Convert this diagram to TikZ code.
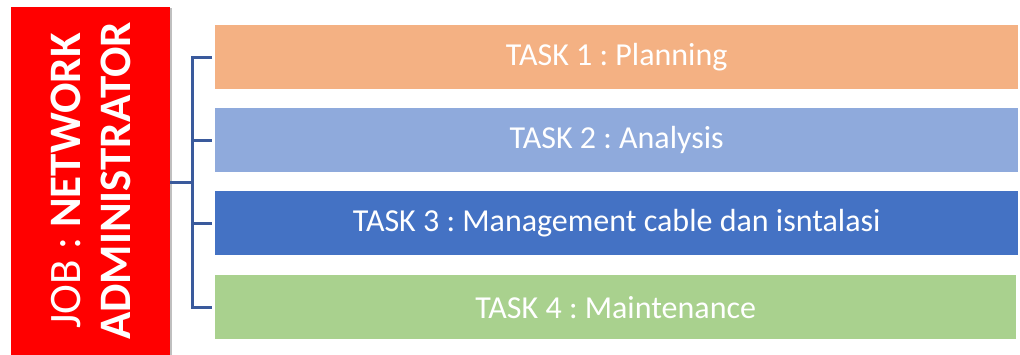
\documentclass[tikz,border=0pt]{standalone}
\usepackage{fontspec}
\setmainfont{Carlito}
\usetikzlibrary{shadows}
\definecolor{torange}{HTML}{F4B183}
\definecolor{tlblue}{HTML}{8FAADC}
\definecolor{tdblue}{HTML}{4472C4}
\definecolor{tgreen}{HTML}{A9D18E}
\definecolor{conncol}{HTML}{3A5A9C}
\frenchspacing
\tikzset{
  taskbox/.style={rectangle, anchor=north west, minimum width=803pt, minimum height=64pt, inner sep=0pt, text=white, font=\fontsize{32}{37}\selectfont},
  jobbox/.style={rectangle, anchor=north west, fill=red, minimum width=159pt, minimum height=380pt, inner sep=0pt,
     drop shadow={shadow xshift=2pt, shadow yshift=-1pt, opacity=0.25, fill=black}},
  jobtext/.style={rotate=90, text=white, align=center, font=\fontsize{45}{50}\selectfont},
  conn/.style={draw=conncol, line width=3pt}
}
\begin{document}
\begin{tikzpicture}[x=1pt,y=-1pt]
\useasboundingbox (0,0) rectangle (1020,354);
\fill[white] (0,0) rectangle (1020,354);
\node[jobbox] (job) at (11,7) {};
\node[jobtext] (jt) at (90.5,181) {JOB : \textbf{NETWORK}\\\textbf{ADMINISTRATOR}};
\node[taskbox, fill=torange] (t1) at (215,25) {TASK 1 : Planning};
\node[taskbox, fill=tlblue] (t2) at (215,108) {TASK 2 : Analysis};
\node[taskbox, fill=tdblue] (t3) at (215,191) {TASK 3 : Management cable dan isntalasi};
\node[taskbox, fill=tgreen, minimum width=801pt] (t4) at (215,275) {TASK 4 : Maintenance};
\coordinate (bus) at (192,182);
\draw[conn] (job.east |- bus) -- (bus);
\draw[conn] ([xshift=-3pt]t1.west) -- (t1.west -| bus) -- (t4.west -| bus) -- ([xshift=-3pt]t4.west);
\draw[conn] (t2.west -| bus) -- ([xshift=-3pt]t2.west);
\draw[conn] (t3.west -| bus) -- ([xshift=-3pt]t3.west);
\end{tikzpicture}
\end{document}
